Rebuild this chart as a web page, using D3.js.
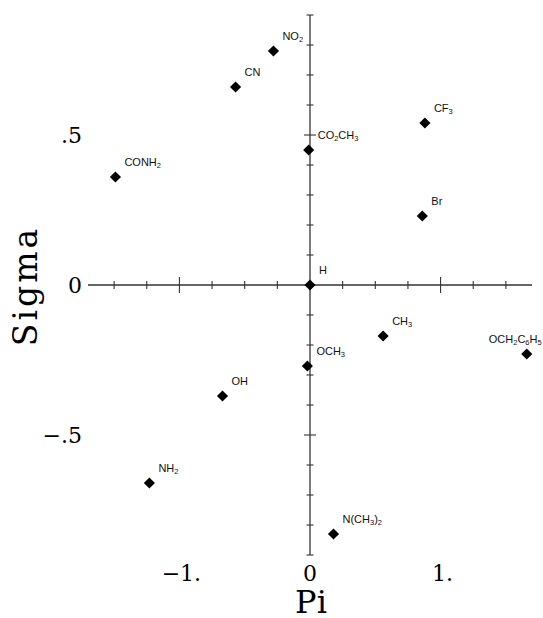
<!DOCTYPE html>
<html>
<head>
<meta charset="utf-8">
<script src="https://cdn.jsdelivr.net/npm/d3@7"></script>
<style>
  body { margin: 0; background: #fff; }
  svg { display: block; }
</style>
</head>
<body>
<div id="chart"></div>
<script>
// substituent data: hydrophobicity (Pi) vs Hammett constant (Sigma)
var names = ["NO2", "CN", "CONH2", "CO2CH3", "CF3", "Br", "H", "CH3", "OCH2C6H5", "OCH3", "OH", "NH2", "N(CH3)2"];
var piValues = [-0.28, -0.57, -1.49, -0.01, 0.88, 0.86, 0, 0.56, 1.66, -0.02, -0.67, -1.23, 0.18];
var sigmaValues = [0.78, 0.66, 0.36, 0.45, 0.54, 0.23, 0, -0.17, -0.23, -0.27, -0.37, -0.66, -0.83];

var xTicks = [-1.5, -1.25, -1, -0.75, -0.5, -0.25, 0.25, 0.5, 0.75, 1, 1.25, 1.5];
var yTicks = [-0.9, -0.8, -0.7, -0.6, -0.5, -0.4, -0.3, -0.2, -0.1, 0.1, 0.2, 0.3, 0.4, 0.5, 0.6, 0.7, 0.8, 0.9];
var xLabels = [{v: -1, t: "\u22121."}, {v: 0, t: "0"}, {v: 1, t: "1."}];
var yLabels = [{v: 0.5, t: ".5"}, {v: 0, t: "0"}, {v: -0.5, t: "\u2212.5"}];

var w = 543, h = 618;

var svg = d3.select("#chart").append("svg")
    .attr("width", w)
    .attr("height", h);

var x = d3.scaleLinear().domain([-1.7, 1.7]).range([88, 532]);
var y = d3.scaleLinear().domain([-0.9, 0.9]).range([555, 15]);

var axisColor = "#333";

// axes crossing at the origin
svg.append("line")
    .attr("x1", x(-1.7)).attr("x2", x(1.7))
    .attr("y1", y(0)).attr("y2", y(0))
    .attr("stroke", axisColor).attr("stroke-width", 1.3);

svg.append("line")
    .attr("x1", x(0)).attr("x2", x(0))
    .attr("y1", y(0.9)).attr("y2", y(-0.9))
    .attr("stroke", axisColor).attr("stroke-width", 1.3);

// x ticks (longer at integers)
svg.selectAll(".xtick")
    .data(xTicks)
    .enter()
    .append("line")
    .attr("class", "xtick")
    .attr("x1", function (d) { return x(d); })
    .attr("x2", function (d) { return x(d); })
    .attr("y1", function (d) { return y(0) - (Math.abs(d) == 1 ? 8 : 4); })
    .attr("y2", function (d) { return y(0) + (Math.abs(d) == 1 ? 8 : 4); })
    .attr("stroke", axisColor).attr("stroke-width", 1.1);

// y ticks (longer at +-.5)
svg.selectAll(".ytick")
    .data(yTicks)
    .enter()
    .append("line")
    .attr("class", "ytick")
    .attr("x1", function (d) { return x(0) - (Math.abs(d) == 0.5 ? 6 : 3.5); })
    .attr("x2", function (d) { return x(0) + (Math.abs(d) == 0.5 ? 6 : 3.5); })
    .attr("y1", function (d) { return y(d); })
    .attr("y2", function (d) { return y(d); })
    .attr("stroke", axisColor).attr("stroke-width", 1.1);

var serif = "'DejaVu Serif', 'Liberation Serif', serif";

svg.selectAll(".xlab")
    .data(xLabels)
    .enter()
    .append("text")
    .attr("x", function (d) { return x(d.v) + (d.v == 0 ? 0 : 2); })
    .attr("y", 581)
    .attr("text-anchor", "middle")
    .style("font-family", serif)
    .style("font-size", "22px")
    .text(function (d) { return d.t; });

svg.selectAll(".ylab")
    .data(yLabels)
    .enter()
    .append("text")
    .attr("x", 82)
    .attr("y", function (d) { return y(d.v) + 8; })
    .attr("text-anchor", "end")
    .style("font-family", serif)
    .style("font-size", "22px")
    .text(function (d) { return d.t; });

svg.append("text")
    .attr("x", 311)
    .attr("y", 613)
    .attr("text-anchor", "middle")
    .style("font-family", serif)
    .style("font-size", "32px")
    .text("Pi");

svg.append("text")
    .attr("transform", "translate(37," + 286 + ") rotate(-90)")
    .attr("text-anchor", "middle")
    .style("font-family", serif)
    .style("font-size", "33px")
    .style("letter-spacing", "3px")
    .text("Sigma");

// points
var points = names.map(function (n, i) {
    return {name: n, pi: piValues[i], sigma: sigmaValues[i]};
});

svg.selectAll(".pt")
    .data(points)
    .enter()
    .append("path")
    .attr("class", "pt")
    .attr("d", d3.symbol().type(d3.symbolSquare).size(62))
    .attr("transform", function (d) {
        return "translate(" + x(d.pi) + "," + y(d.sigma) + ") rotate(45)";
    })
    .attr("fill", "#000");

// labels with digits as subscripts
var labels = svg.selectAll(".lbl")
    .data(points)
    .enter()
    .append("text")
    .attr("class", "lbl")
    .attr("x", function (d) { return x(d.pi) + (d.name == "OCH2C6H5" ? -38 : 9); })
    .attr("y", function (d) { return y(d.sigma) - 11; })
    .style("font-family", "'Liberation Sans', Arial, sans-serif")
    .style("font-size", "11px")
    .attr("fill", "#111");

labels.each(function (d) {
    var t = d3.select(this);
    var parts = d.name.match(/\d+|\D+/g);
    var low = false;
    parts.forEach(function (p) {
        if (/\d/.test(p)) {
            t.append("tspan").attr("dy", 2).style("font-size", "7.5px").text(p);
            low = true;
        } else {
            t.append("tspan").attr("dy", low ? -2 : 0).text(p);
            low = false;
        }
    });
});
</script>
</body>
</html>
